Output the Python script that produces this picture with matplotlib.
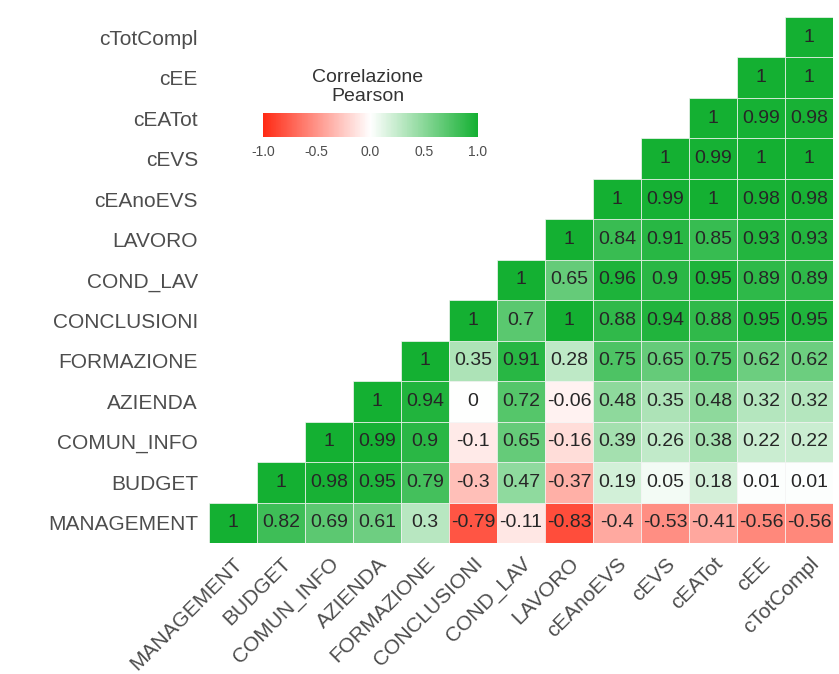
import numpy as np
import matplotlib
matplotlib.use("Agg")
import matplotlib.pyplot as plt
from matplotlib.colors import LinearSegmentedColormap, Normalize
from matplotlib.patches import Rectangle
from matplotlib.cm import ScalarMappable

plt.rcParams['font.family'] = ['Liberation Sans', 'DejaVu Sans']

# variable names, bottom row / left column first
labels = ["MANAGEMENT", "BUDGET", "COMUN_INFO", "AZIENDA", "FORMAZIONE",
          "CONCLUSIONI", "COND_LAV", "LAVORO", "cEAnoEVS", "cEVS",
          "cEATot", "cEE", "cTotCompl"]

# upper triangle, row i holds correlations with columns i..12
r_management = [1, 0.82, 0.69, 0.61, 0.3, -0.79, -0.11, -0.83, -0.4, -0.53, -0.41, -0.56, -0.56]
r_budget = [1, 0.98, 0.95, 0.79, -0.3, 0.47, -0.37, 0.19, 0.05, 0.18, 0.01, 0.01]
r_comun_info = [1, 0.99, 0.9, -0.1, 0.65, -0.16, 0.39, 0.26, 0.38, 0.22, 0.22]
r_azienda = [1, 0.94, 0, 0.72, -0.06, 0.48, 0.35, 0.48, 0.32, 0.32]
r_formazione = [1, 0.35, 0.91, 0.28, 0.75, 0.65, 0.75, 0.62, 0.62]
r_conclusioni = [1, 0.7, 1, 0.88, 0.94, 0.88, 0.95, 0.95]
r_cond_lav = [1, 0.65, 0.96, 0.9, 0.95, 0.89, 0.89]
r_lavoro = [1, 0.84, 0.91, 0.85, 0.93, 0.93]
r_ceanoevs = [1, 0.99, 1, 0.98, 0.98]
r_cevs = [1, 0.99, 1, 1]
r_ceatot = [1, 0.99, 0.98]
r_cee = [1, 1]
r_ctotcompl = [1]

rows = [r_management, r_budget, r_comun_info, r_azienda, r_formazione,
        r_conclusioni, r_cond_lav, r_lavoro, r_ceanoevs, r_cevs,
        r_ceatot, r_cee, r_ctotcompl]

n = len(labels)
cmap = LinearSegmentedColormap.from_list("rwg", ["#ff2a14", "#ffffff", "#14b032"])
norm = Normalize(vmin=-1, vmax=1)

fig = plt.figure(figsize=(8.39, 6.74), dpi=100)
ax = fig.add_axes([209 / 839, 1 - 543 / 674, 624 / 839, 526 / 674])

for i, r in enumerate(rows):
    for k, v in enumerate(r):
        j = i + k
        ax.add_patch(Rectangle((j - 0.5, i - 0.5), 1, 1, facecolor=cmap(norm(v)),
                               edgecolor="#f4f4f4", linewidth=0.5))
        ax.text(j, i, "%g" % v, ha="center", va="center", fontsize=14, color="#262626")

ax.set_xlim(-0.5, n - 0.5)
ax.set_ylim(-0.5, n - 0.5)
ax.set_xticks(range(n))
ax.set_yticks(range(n))
ax.set_xticklabels(labels, rotation=45, ha="right", rotation_mode="anchor",
                   fontsize=15, color="#4d4d4d")
ax.set_yticklabels(labels, fontsize=15, color="#4d4d4d")
ax.tick_params(length=0, pad=8)
for s in ax.spines.values():
    s.set_visible(False)

# colour bar legend
cax = fig.add_axes([263 / 839, 1 - 137 / 674, 215 / 839, 24 / 674])
cb = fig.colorbar(ScalarMappable(norm=norm, cmap=cmap), cax=cax, orientation="horizontal",
                  ticks=[-1, -0.5, 0, 0.5, 1])
cb.outline.set_visible(False)
cb.ax.set_xticklabels(["-1.0", "-0.5", "0.0", "0.5", "1.0"])
cb.ax.tick_params(length=0, labelsize=10, labelcolor="#4d4d4d", pad=6)
fig.text(368 / 839, 1 - 87 / 674, "Correlazione\nPearson", ha="center", va="center",
         fontsize=14, color="#333333", linespacing=1.15)

fig.savefig("out.png", dpi=100)
